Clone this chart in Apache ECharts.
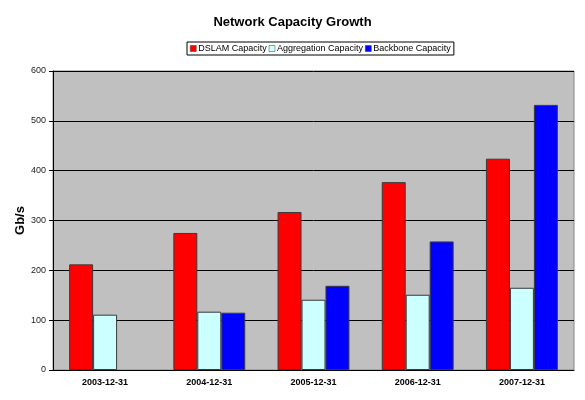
<!DOCTYPE html>
<html>
<head>
<meta charset="utf-8">
<script src="https://cdn.jsdelivr.net/npm/echarts@6/dist/echarts.min.js"></script>
<style>
  html, body { margin: 0; padding: 0; background: #fff; }
  #chart { width: 585px; height: 400px; }
</style>
</head>
<body>
<div id="chart"></div>
<script>
// Network Capacity Growth — grouped columns, Excel-style grey plot area
var categories = ['2003-12-31', '2004-12-31', '2005-12-31', '2006-12-31', '2007-12-31'];
var dslam = [212, 275, 317, 377, 424];
var aggregation = [111, 117, 141, 151, 165];
var backbone = [null, 115, 169, 258, 532];
var yTicks = [0, 100, 200, 300, 400, 500, 600];

var font = 'Arial, "Liberation Sans", sans-serif';

function bar(name, color, data) {
  return {
    name: name,
    type: 'bar',
    barGap: '0%',
    barCategoryGap: '31%',
    itemStyle: { color: color, borderColor: '#3a3a3a', borderWidth: 1 },
    data: data
  };
}

var chart = echarts.init(document.getElementById('chart'));
chart.setOption({
  animation: false,
  backgroundColor: '#fff',
  textStyle: { fontFamily: font },
  title: {
    text: 'Network Capacity Growth',
    left: 'center',
    top: 11,
    textStyle: { fontSize: 13, fontWeight: 'bold', color: '#000', fontFamily: font }
  },
  legend: {
    top: 42,
    left: 187,
    padding: [2, 3, 2, 3],
    borderColor: '#000',
    borderWidth: 1,
    itemWidth: 6,
    itemHeight: 6,
    itemGap: 2,
    icon: 'rect',
    textStyle: { fontSize: 9, color: '#000', padding: [0, 0, 0, -3] },
    itemStyle: { borderColor: '#3a3a3a', borderWidth: 0.5 },
    data: ['DSLAM Capacity', 'Aggregation Capacity', 'Backbone Capacity']
  },
  grid: { left: 53, right: 11, top: 71, bottom: 30, backgroundColor: '#c0c0c0', show: true, borderColor: '#888', borderWidth: 1 },
  xAxis: {
    type: 'category',
    data: categories,
    axisLine: { lineStyle: { color: '#000' } },
    axisTick: { lineStyle: { color: '#000' }, length: 4 },
    axisLabel: { color: '#000', fontSize: 9, fontWeight: 'bold', margin: 8 }
  },
  yAxis: {
    type: 'value',
    min: yTicks[0],
    max: yTicks[yTicks.length - 1],
    interval: 100,
    name: 'Gb/s',
    nameLocation: 'middle',
    nameGap: 26,
    nameMoveOverlap: false,
    nameTextStyle: { fontSize: 13, fontWeight: 'bold', color: '#000' },
    axisLine: { show: true, lineStyle: { color: '#000' } },
    axisTick: { show: true, length: 4, lineStyle: { color: '#000' } },
    axisLabel: { color: '#222', fontSize: 9, margin: 7 },
    splitLine: { lineStyle: { color: '#000', width: 1 } }
  },
  series: [
    bar('DSLAM Capacity', '#ff0000', dslam),
    bar('Aggregation Capacity', '#ccffff', aggregation),
    bar('Backbone Capacity', '#0000ff', backbone)
  ]
});
</script>
</body>
</html>
